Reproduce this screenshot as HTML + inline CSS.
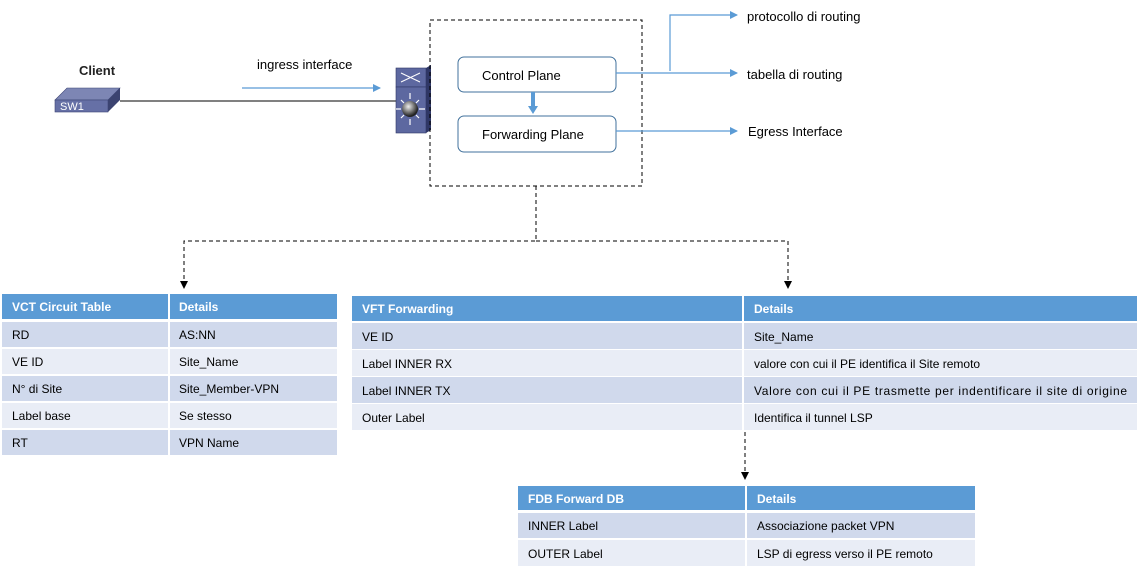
<!DOCTYPE html>
<html><head><meta charset="utf-8"><style>
body{margin:0;background:#fff;width:1141px;height:574px;overflow:hidden}
svg{display:block}
text{font-family:"Liberation Sans",sans-serif}
.h{fill:#fff;font-weight:bold;font-size:12px}
.c{fill:#000;font-size:12px}
.l{font-size:13px;fill:#000}
</style></head><body>
<svg width="1141" height="574" viewBox="0 0 1141 574">
<defs>
<marker id="ab" markerWidth="8" markerHeight="8" refX="7" refY="4" orient="auto" markerUnits="userSpaceOnUse"><path d="M0,0 L8,4 L0,8 z" fill="#5b9bd5"/></marker>
<marker id="ak" markerWidth="8" markerHeight="8" refX="7" refY="4" orient="auto" markerUnits="userSpaceOnUse"><path d="M0,0 L8,4 L0,8 z" fill="#000"/></marker>
<radialGradient id="bg" cx="0.4" cy="0.35" r="0.6"><stop offset="0" stop-color="#eee"/><stop offset="1" stop-color="#222"/></radialGradient>
</defs>
<text x="97" y="75" text-anchor="middle" style="font-size:13px;font-weight:bold;fill:#222">Client</text>
<polygon points="55,100 67,88 120,88 108,100" fill="#7d86b4" stroke="#3d4575" stroke-width="0.6"/>
<polygon points="108,100 120,88 120,100 108,112" fill="#3b4370"/>
<rect x="55" y="100" width="53" height="12" fill="#6670a6" stroke="#3d4575" stroke-width="0.6"/>
<text x="60" y="110" style="font-size:11px;fill:#fff">SW1</text>
<line x1="120" y1="101" x2="396" y2="101" stroke="#000" stroke-width="1"/>
<text x="257" y="69" class="l">ingress interface</text>
<line x1="242" y1="88" x2="380" y2="88" stroke="#5b9bd5" stroke-width="1.2" marker-end="url(#ab)"/>
<rect x="396" y="68" width="30" height="19" fill="#5d68a0" stroke="#2f3766" stroke-width="0.6"/>
<rect x="396" y="87" width="30" height="46" fill="#5d68a0" stroke="#2f3766" stroke-width="0.6"/>
<polygon points="426,68 431,65 431,130 426,133" fill="#2f3766"/>
<circle cx="410" cy="109" r="8" fill="url(#bg)"/>
<path d="M401,73 L420,82 M401,82 L420,73" stroke="#fff" stroke-width="1"/>
<path d="M410,93 V99 M410,119 V125 M396,109 H401 M419,109 H425 M401,100 L404,103 M419,100 L416,103 M401,118 L404,115 M419,118 L416,115" stroke="#fff" stroke-width="1.2"/>
<rect x="430" y="20" width="212" height="166" fill="none" stroke="#000" stroke-dasharray="4,3"/>
<rect x="458" y="57" width="158" height="35" rx="6" fill="#fff" stroke="#41719c"/>
<text x="482" y="80" class="l">Control Plane</text>
<rect x="458" y="116" width="158" height="36" rx="6" fill="#fff" stroke="#41719c"/>
<text x="482" y="139" class="l">Forwarding Plane</text>
<rect x="531" y="92" width="4" height="16" fill="#5b9bd5"/>
<polygon points="528,106 538,106 533,114" fill="#5b9bd5"/>
<line x1="616" y1="73" x2="737" y2="73" stroke="#5b9bd5" stroke-width="1.2" marker-end="url(#ab)"/>
<polyline points="670,71 670,15 737,15" fill="none" stroke="#5b9bd5" stroke-width="1.2" marker-end="url(#ab)"/>
<line x1="616" y1="131" x2="737" y2="131" stroke="#5b9bd5" stroke-width="1.2" marker-end="url(#ab)"/>
<text x="747" y="21" class="l">protocollo di routing</text>
<text x="747" y="79" class="l">tabella di routing</text>
<text x="748" y="136" class="l">Egress Interface</text>
<polyline points="536,186 536,241 184,241 184,288" fill="none" stroke="#000" stroke-dasharray="4,3" marker-end="url(#ak)"/>
<polyline points="536,241 788,241 788,288" fill="none" stroke="#000" stroke-dasharray="4,3" marker-end="url(#ak)"/>
<line x1="745" y1="432" x2="745" y2="479" stroke="#000" stroke-dasharray="4,3" marker-end="url(#ak)"/>
<rect x="2" y="294" width="166" height="25" fill="#5b9bd5"/><rect x="170" y="294" width="167" height="25" fill="#5b9bd5"/>
<text x="12" y="311" class="h">VCT Circuit Table</text><text x="179" y="311" class="h">Details</text>
<rect x="2" y="322" width="166" height="25" fill="#d0d9ec"/><rect x="170" y="322" width="167" height="25" fill="#d0d9ec"/>
<rect x="2" y="349" width="166" height="25" fill="#e9edf6"/><rect x="170" y="349" width="167" height="25" fill="#e9edf6"/>
<rect x="2" y="376" width="166" height="25" fill="#d0d9ec"/><rect x="170" y="376" width="167" height="25" fill="#d0d9ec"/>
<rect x="2" y="403" width="166" height="25" fill="#e9edf6"/><rect x="170" y="403" width="167" height="25" fill="#e9edf6"/>
<rect x="2" y="430" width="166" height="25" fill="#d0d9ec"/><rect x="170" y="430" width="167" height="25" fill="#d0d9ec"/>
<text x="12" y="339" class="c">RD</text><text x="179" y="339" class="c">AS:NN</text>
<text x="12" y="366" class="c">VE ID</text><text x="179" y="366" class="c">Site_Name</text>
<text x="12" y="393" class="c">N° di Site</text><text x="179" y="393" class="c">Site_Member-VPN</text>
<text x="12" y="420" class="c">Label base</text><text x="179" y="420" class="c">Se stesso</text>
<text x="12" y="447" class="c">RT</text><text x="179" y="447" class="c">VPN Name</text>
<rect x="352" y="296" width="390" height="25" fill="#5b9bd5"/><rect x="744" y="296" width="393" height="25" fill="#5b9bd5"/>
<text x="362" y="313" class="h">VFT Forwarding</text><text x="754" y="313" class="h">Details</text>
<rect x="352" y="323" width="390" height="26" fill="#d0d9ec"/><rect x="744" y="323" width="393" height="26" fill="#d0d9ec"/>
<rect x="352" y="350" width="390" height="26" fill="#e9edf6"/><rect x="744" y="350" width="393" height="26" fill="#e9edf6"/>
<rect x="352" y="377" width="390" height="26" fill="#d0d9ec"/><rect x="744" y="377" width="393" height="26" fill="#d0d9ec"/>
<rect x="352" y="404" width="390" height="26" fill="#e9edf6"/><rect x="744" y="404" width="393" height="26" fill="#e9edf6"/>
<text x="362" y="341" class="c">VE ID</text><text x="754" y="341" class="c">Site_Name</text>
<text x="362" y="368" class="c">Label INNER RX</text><text x="754" y="368" class="c">valore con cui il PE identifica il Site remoto</text>
<text x="362" y="395" class="c">Label INNER TX</text><text x="754" y="395" class="c" textLength="373">Valore con cui il PE trasmette per indentificare il site di origine</text>
<text x="362" y="422" class="c">Outer Label</text><text x="754" y="422" class="c">Identifica il tunnel LSP</text>
<rect x="518" y="486" width="227" height="24" fill="#5b9bd5"/><rect x="747" y="486" width="228" height="24" fill="#5b9bd5"/>
<text x="528" y="503" class="h">FDB Forward DB</text><text x="757" y="503" class="h">Details</text>
<rect x="518" y="513" width="227" height="25" fill="#d0d9ec"/><rect x="747" y="513" width="228" height="25" fill="#d0d9ec"/>
<rect x="518" y="540" width="227" height="26" fill="#e9edf6"/><rect x="747" y="540" width="228" height="26" fill="#e9edf6"/>
<text x="528" y="530" class="c">INNER Label</text><text x="757" y="530" class="c">Associazione packet VPN</text>
<text x="528" y="558" class="c">OUTER Label</text><text x="757" y="558" class="c">LSP di egress verso il PE remoto</text>
</svg>
</body></html>
